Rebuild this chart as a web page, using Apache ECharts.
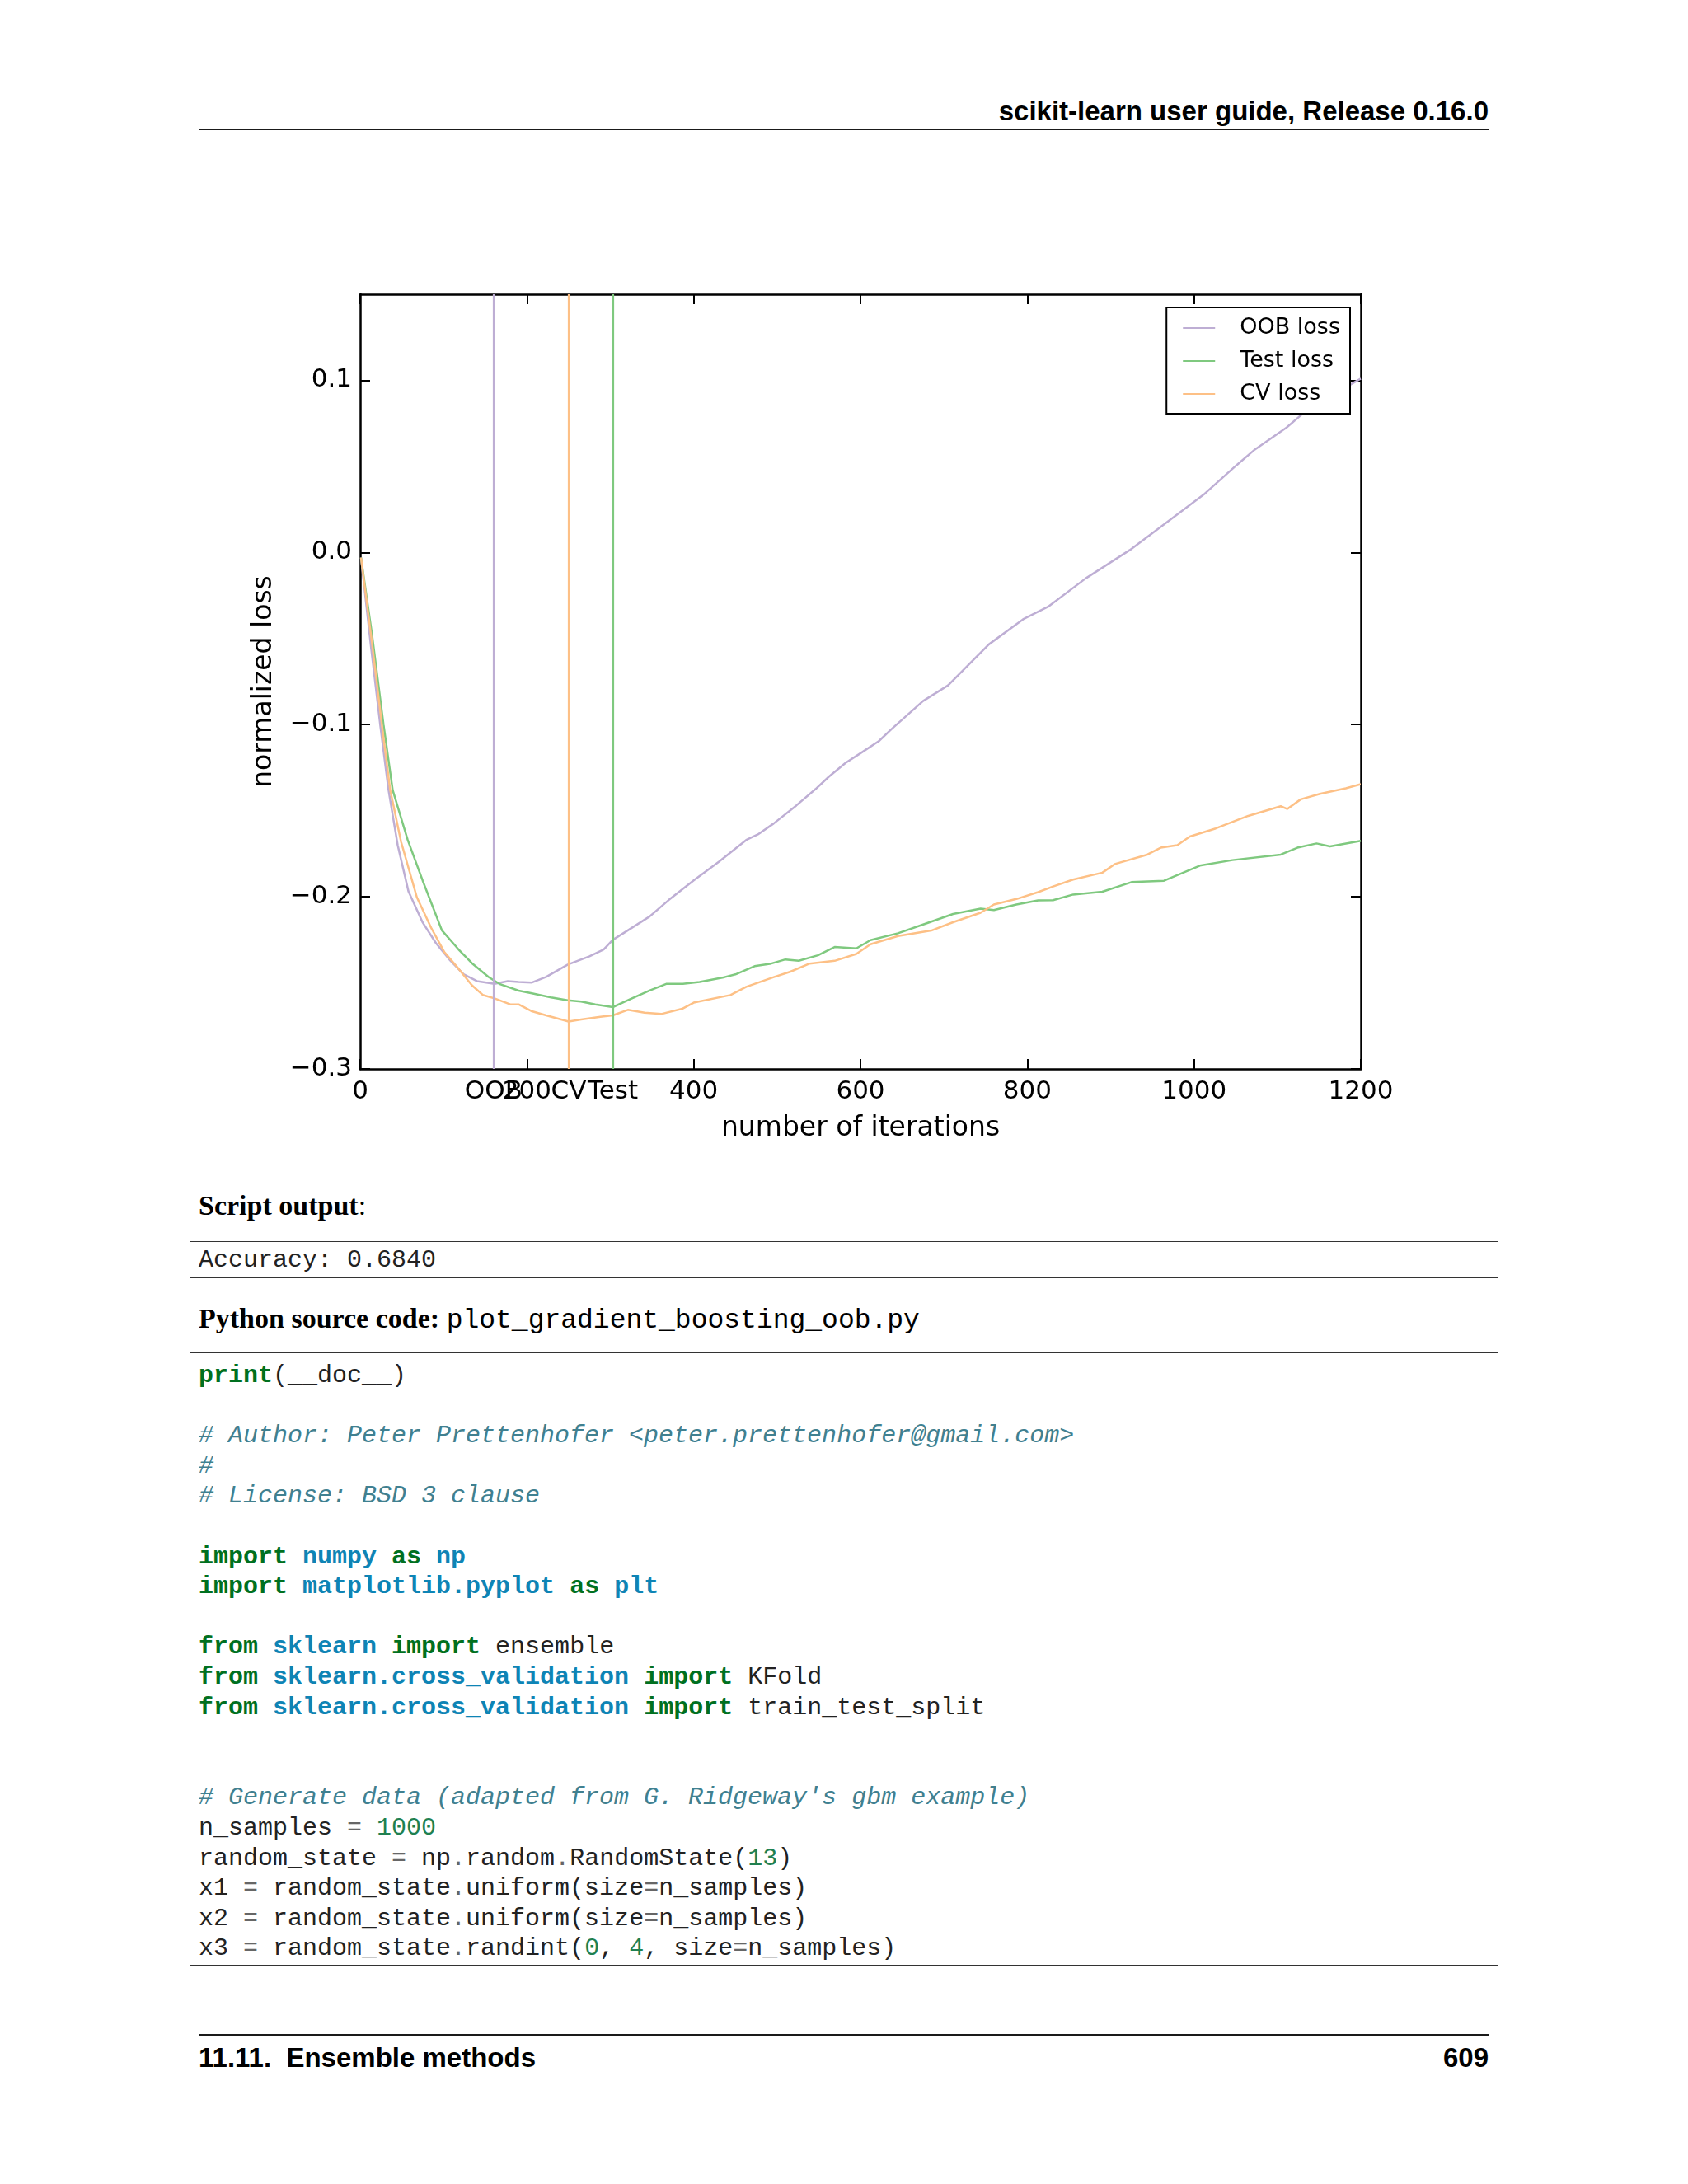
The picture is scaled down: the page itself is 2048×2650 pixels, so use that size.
<!DOCTYPE html>
<html>
<head>
<meta charset="utf-8">
<title>plot_gradient_boosting_oob</title>
<script src="https://cdn.jsdelivr.net/npm/echarts@6/dist/echarts.min.js"></script>
<style>
  html, body { margin: 0; padding: 0; background: #ffffff; }
  body { width: 2048px; height: 2650px; position: relative; overflow: hidden; color: #000; }
  #chart { position: absolute; left: 0; top: 0; width: 2048px; height: 1420px; }
  .abs { position: absolute; white-space: pre; }
  .head { font: bold 33px/33px "Liberation Sans", Arial, sans-serif; }
  .rule { position: absolute; left: 241px; width: 1565px; height: 2px; background: #1a1a1a; }
  .serif { font: bold 34px/34px "Liberation Serif", "Times New Roman", serif; }
  .serif .plain { font-weight: normal; }
  .mono { font-family: "Liberation Mono", "DejaVu Sans Mono", monospace; }
  .box { position: absolute; left: 230px; width: 1588px; border: 1.5px solid #333; box-sizing: border-box; }
  pre { margin: 0; font: 30px/36.6px "Liberation Mono", "DejaVu Sans Mono", monospace; color: #222; }
  .k { color: #007020; font-weight: bold; }
  .nn { color: #0e84b5; font-weight: bold; }
  .c { color: #408090; font-style: italic; }
  .m { color: #208050; }
  .o { color: #666666; }
</style>
</head>
<body>

<div class="abs head" style="right:242px; top:118px;">scikit-learn user guide, Release 0.16.0</div>
<div class="rule" style="top:156px;"></div>

<div id="chart"></div>

<div class="abs serif" style="left:241px; top:1446px;">Script output<span class="plain">:</span></div>
<div class="box" style="top:1506px; height:45px;"></div>
<div class="abs mono" style="left:241px; top:1514px; font-size:30px; line-height:30px; color:#222;">Accuracy: 0.6840</div>

<div class="abs serif" style="left:241px; top:1583px;">Python source code: <span class="mono" style="font-weight:normal; font-size:33px;">plot_gradient_boosting_oob.py</span></div>
<div class="box" style="top:1641px; height:744px;"></div>
<div class="abs" style="left:241px; top:1633px;">
<pre><span class="k">print</span>(__doc__)

<span class="c"># Author: Peter Prettenhofer &lt;peter.prettenhofer@gmail.com&gt;</span>
<span class="c">#</span>
<span class="c"># License: BSD 3 clause</span>

<span class="k">import</span> <span class="nn">numpy</span> <span class="k">as</span> <span class="nn">np</span>
<span class="k">import</span> <span class="nn">matplotlib.pyplot</span> <span class="k">as</span> <span class="nn">plt</span>

<span class="k">from</span> <span class="nn">sklearn</span> <span class="k">import</span> ensemble
<span class="k">from</span> <span class="nn">sklearn.cross_validation</span> <span class="k">import</span> KFold
<span class="k">from</span> <span class="nn">sklearn.cross_validation</span> <span class="k">import</span> train_test_split


<span class="c"># Generate data (adapted from G. Ridgeway's gbm example)</span>
n_samples <span class="o">=</span> <span class="m">1000</span>
random_state <span class="o">=</span> np<span class="o">.</span>random<span class="o">.</span>RandomState(<span class="m">13</span>)
x1 <span class="o">=</span> random_state<span class="o">.</span>uniform(size<span class="o">=</span>n_samples)
x2 <span class="o">=</span> random_state<span class="o">.</span>uniform(size<span class="o">=</span>n_samples)
x3 <span class="o">=</span> random_state<span class="o">.</span>randint(<span class="m">0</span>, <span class="m">4</span>, size<span class="o">=</span>n_samples)</pre>
</div>

<div class="rule" style="top:2468px;"></div>
<div class="abs head" style="left:241px; top:2480px;">11.11.  Ensemble methods</div>
<div class="abs head" style="right:242px; top:2480px;">609</div>

<script>
// series names and colours (Accent colormap, as in the sklearn example)
var seriesNames = ['OOB loss', 'Test loss', 'CV loss'];
var seriesColors = ['#beaed4', '#7fc97f', '#fdc086'];

// normalized loss, iteration -> value
var oobIter = [1, 13, 24, 34, 45, 58, 75, 91, 108, 124, 140, 161, 177, 190, 206, 223, 249, 275, 292, 303,
    321, 347, 370, 400, 430, 463, 477, 496, 523, 546, 562, 582, 602, 622, 637, 675, 705, 754, 795, 825,
    870, 923, 968, 1013, 1051, 1073, 1111, 1133, 1164, 1200];
var oobLoss = [-0.003, -0.055, -0.100, -0.138, -0.170, -0.197, -0.215, -0.227, -0.237, -0.245, -0.249, -0.2506, -0.249, -0.2495, -0.2498, -0.2466, -0.2394, -0.2346, -0.2306, -0.225,
    -0.2195, -0.2115, -0.2019, -0.1905, -0.1797, -0.167, -0.1638, -0.1574, -0.147, -0.1375, -0.1303, -0.1223, -0.116, -0.1096, -0.1027, -0.0863, -0.0772, -0.0534, -0.0388, -0.0315,
    -0.0151, 0.0014, 0.0178, 0.0342, 0.0507, 0.0598, 0.0726, 0.0817, 0.0909, 0.101];

var testIter = [1, 14, 28, 39, 57, 75, 98, 118, 134, 154, 167, 190, 206, 229, 249, 265, 282, 303, 321, 347,
    367, 387, 407, 437, 450, 473, 493, 510, 526, 549, 569, 595, 612, 645, 678, 711, 744, 760, 787, 813,
    831, 855, 890, 925, 964, 1007, 1046, 1104, 1124, 1147, 1163, 1200];
var testLoss = [-0.003, -0.047, -0.100, -0.138, -0.167, -0.1907, -0.2195, -0.2306, -0.2386, -0.2466, -0.2506, -0.2545, -0.2561, -0.2585, -0.2601, -0.2609, -0.2625, -0.2641, -0.2601, -0.2545,
    -0.2506, -0.2506, -0.2495, -0.2467, -0.2451, -0.2403, -0.2388, -0.2364, -0.2372, -0.234, -0.2292, -0.230, -0.2252, -0.2212, -0.2156, -0.210, -0.2069, -0.2077, -0.2045, -0.2021,
    -0.202, -0.1987, -0.1971, -0.1915, -0.1907, -0.1819, -0.1787, -0.1755, -0.1715, -0.169, -0.1707, -0.1675];

var cvIter = [1, 14, 26, 36, 49, 68, 85, 101, 118, 134, 147, 161, 180, 190, 206, 223, 250, 265, 288, 303,
    321, 341, 361, 387, 400, 444, 463, 496, 516, 539, 569, 595, 612, 645, 685, 711, 744, 760, 787, 813,
    831, 855, 890, 905, 944, 960, 980, 995, 1026, 1065, 1104, 1112, 1128, 1151, 1182, 1200];
var cvLoss = [-0.003, -0.052, -0.100, -0.138, -0.168, -0.2003, -0.2179, -0.2322, -0.2418, -0.2514, -0.257, -0.259, -0.2625, -0.2625, -0.2665, -0.2689, -0.2725, -0.2713, -0.2697, -0.2689,
    -0.2657, -0.2673, -0.2681, -0.2649, -0.2615, -0.2571, -0.2523, -0.2467, -0.2435, -0.2388, -0.2372, -0.2332, -0.2276, -0.2228, -0.2196, -0.2148, -0.2093, -0.2045, -0.2013, -0.1973,
    -0.194, -0.190, -0.186, -0.181, -0.1755, -0.1715, -0.170, -0.165, -0.1603, -0.153, -0.1474, -0.149, -0.1434, -0.1402, -0.137, -0.1346];

// best iteration of each estimate (vertical lines + extra tick labels)
var bestNames = ['OOB', 'Test', 'CV'];
var bestIters = [160, 303, 250];

// axis ticks
var xTicks = [0, 200, 400, 600, 800, 1000, 1200];
var yTicks = [-0.3, -0.2, -0.1, 0.0, 0.1];

var chart = echarts.init(document.getElementById('chart'), null, { renderer: 'canvas' });

function pairs(xs, ys) {
    return xs.map(function (x, i) { return [x, ys[i]]; });
}

var xLabelValues = xTicks.concat(bestIters).sort(function (a, b) { return a - b; });

function xFormat(v) {
    var i = bestIters.indexOf(v);
    return i >= 0 ? bestNames[i] : String(v);
}

function yFormat(v) {
    if (Math.abs(v) < 1e-9) return '0.0';
    return v.toFixed(1).replace('-', '\u2212');
}

var tickFont = { fontFamily: 'DejaVu Sans', fontSize: 31, color: '#000' };
var nameFont = { fontFamily: 'DejaVu Sans', fontSize: 33, color: '#000' };
var frameLine = { show: true, onZero: false, lineStyle: { color: '#000', width: 2.5 } };
var innerTick = { show: true, inside: true, length: 12, lineStyle: { color: '#000', width: 2 } };

var lossData = [pairs(oobIter, oobLoss), pairs(testIter, testLoss), pairs(cvIter, cvLoss)];

var series = seriesNames.map(function (name, i) {
    return {
        name: name,
        type: 'line',
        symbol: 'none',
        silent: true,
        animation: false,
        lineStyle: { color: seriesColors[i], width: 2.5 },
        itemStyle: { color: seriesColors[i] },
        data: lossData[i],
        markLine: {
            symbol: 'none',
            silent: true,
            animation: false,
            label: { show: false },
            lineStyle: { color: seriesColors[i], width: 2.2, type: 'solid' },
            data: [{ xAxis: bestIters[i] }]
        }
    };
});

var option = {
    animation: false,
    backgroundColor: 'transparent',
    textStyle: { fontFamily: 'DejaVu Sans' },
    grid: { left: 437, top: 357, width: 1214, height: 940, containLabel: false },
    legend: {
        data: seriesNames,
        orient: 'vertical',
        right: 410,
        top: 373,
        padding: [10, 12, 9, 19],
        itemGap: 10,
        itemWidth: 39,
        itemHeight: 14,
        itemStyle: { opacity: 0 },
        backgroundColor: '#fff',
        borderColor: '#000',
        borderWidth: 2,
        textStyle: { fontFamily: 'DejaVu Sans', fontSize: 27, color: '#000', lineHeight: 30, padding: [0, 0, 0, 25] }
    },
    xAxis: [{
        type: 'value',
        min: 0, max: 1200, interval: 200,
        name: 'number of iterations',
        nameLocation: 'middle',
        nameGap: 56,
        nameTextStyle: nameFont,
        axisLine: frameLine,
        axisTick: Object.assign({ customValues: xLabelValues }, innerTick),
        axisLabel: Object.assign({ customValues: xLabelValues, formatter: xFormat, margin: 12, hideOverlap: false }, tickFont),
        splitLine: { show: false }
    }, {
        type: 'value',
        position: 'top',
        min: 0, max: 1200, interval: 200,
        axisLine: frameLine,
        axisTick: Object.assign({ customValues: xLabelValues }, innerTick),
        axisLabel: { show: false },
        splitLine: { show: false }
    }],
    yAxis: [{
        type: 'value',
        min: -0.3, max: 0.15, interval: 0.1,
        name: 'normalized loss',
        nameLocation: 'middle',
        nameGap: 100,
        nameTextStyle: nameFont,
        axisLine: frameLine,
        axisTick: Object.assign({ customValues: yTicks }, innerTick),
        axisLabel: Object.assign({ customValues: yTicks, formatter: yFormat, margin: 10 }, tickFont),
        splitLine: { show: false }
    }, {
        type: 'value',
        position: 'right',
        min: -0.3, max: 0.15, interval: 0.1,
        axisLine: frameLine,
        axisTick: Object.assign({ customValues: yTicks }, innerTick),
        axisLabel: { show: false },
        splitLine: { show: false }
    }],
    series: series
};

chart.setOption(option);
</script>
</body>
</html>
